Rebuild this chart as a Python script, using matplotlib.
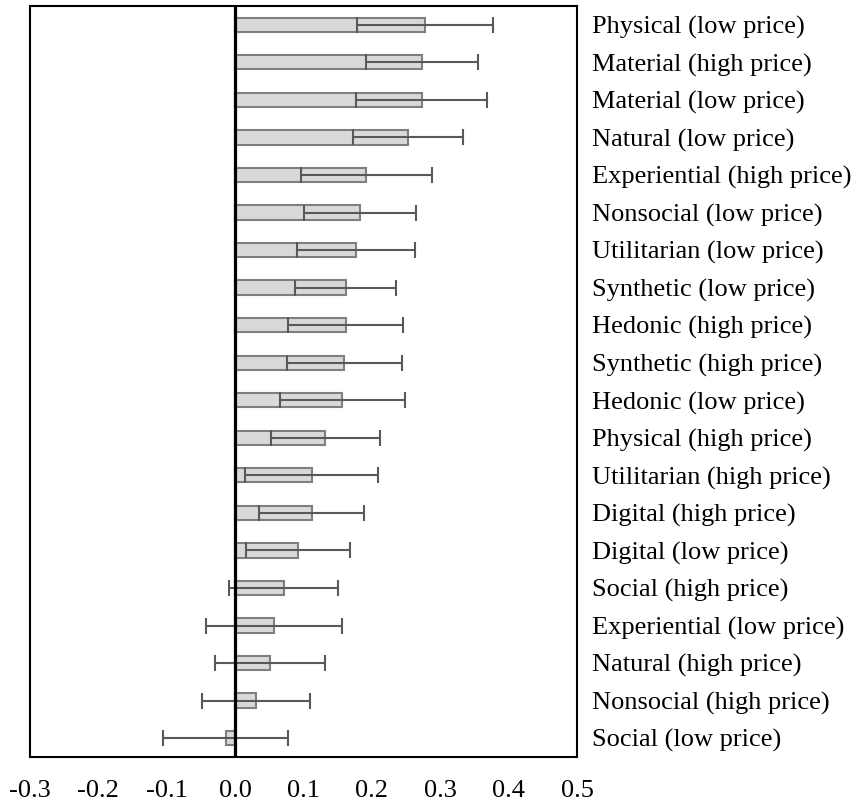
import numpy as np
import matplotlib
matplotlib.use("Agg")
import matplotlib.pyplot as plt

# Data (top to bottom as shown)
labels = [
    "Physical (low price)", "Material (high price)", "Material (low price)",
    "Natural (low price)", "Experiential (high price)", "Nonsocial (low price)",
    "Utilitarian (low price)", "Synthetic (low price)", "Hedonic (high price)",
    "Synthetic (high price)", "Hedonic (low price)", "Physical (high price)",
    "Utilitarian (high price)", "Digital (high price)", "Digital (low price)",
    "Social (high price)", "Experiential (low price)", "Natural (high price)",
    "Nonsocial (high price)", "Social (low price)",
]
means = [0.278, 0.273, 0.273, 0.253, 0.192, 0.183, 0.177, 0.162, 0.162, 0.160,
         0.157, 0.132, 0.112, 0.112, 0.092, 0.071, 0.057, 0.051, 0.031, -0.014]
errors = [0.099, 0.082, 0.096, 0.080, 0.096, 0.082, 0.086, 0.074, 0.084, 0.084,
          0.092, 0.080, 0.097, 0.077, 0.076, 0.080, 0.099, 0.080, 0.079, 0.092]
xticks = [-0.3, -0.2, -0.1, 0.0, 0.1, 0.2, 0.3, 0.4, 0.5]

plt.rcParams['font.family'] = ['Liberation Serif', 'DejaVu Serif']

fig = plt.figure(figsize=(8.56, 8.01), dpi=100)
ax = fig.add_axes([0.035, 0.055, 0.639, 0.9375])

y = np.arange(len(labels))[::-1]
ax.barh(y, means, height=0.38, color='#d9d9d9', edgecolor='#7f7f7f', linewidth=1.5, zorder=2)
ax.errorbar(means, y, xerr=errors, fmt='none', ecolor='#595959', elinewidth=1.5,
            capsize=5.5, capthick=1.5, zorder=3)
ax.axvline(0, color='black', linewidth=2.3, zorder=4)

ax.set_xlim(-0.3, 0.5)
ax.set_ylim(-0.5, len(labels) - 0.5)
ax.set_xticks(xticks)
ax.set_xticklabels([f"{t:.1f}" for t in xticks])
ax.set_yticks(y)
ax.set_yticklabels(labels)
ax.yaxis.tick_right()
ax.tick_params(axis='y', length=0, pad=11, labelsize=19)
ax.tick_params(axis='x', length=0, pad=16.5, labelsize=19)
for s in ax.spines.values():
    s.set_linewidth(1.5)
    s.set_color('black')

fig.savefig("out.png", dpi=100)
